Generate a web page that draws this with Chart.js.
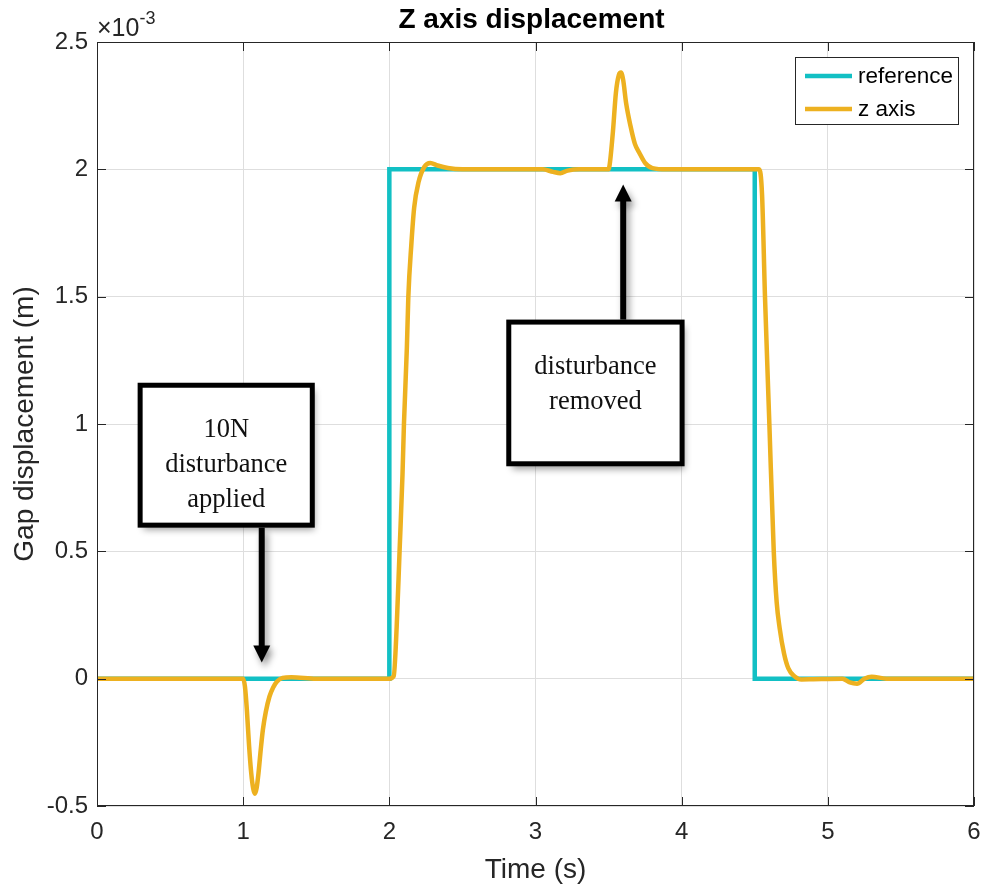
<!DOCTYPE html>
<html>
<head>
<meta charset="utf-8">
<title>Z axis displacement</title>
<script src="https://cdn.jsdelivr.net/npm/chart.js@4"></script>
<style>
  html, body { margin: 0; padding: 0; background: #fff; }
  canvas { display: block; }
</style>
</head>
<body>
<canvas id="zChart" width="985" height="888"></canvas>
<script>
// -------------------- data (displacement in units of 1e-3 m) --------------------
const refTime = [0, 2, 2, 4.5, 4.5, 6];
const refGap  = [0, 0, 2, 2,   0,   0];

const zTime = [
  0, 1.0, 1.012, 1.025, 1.04, 1.055, 1.068, 1.08, 1.092, 1.105, 1.12, 1.135, 1.155, 1.18, 1.205,
  1.23, 1.27, 1.33, 1.5,
  2.0, 2.03, 2.05, 2.07, 2.09, 2.1, 2.12, 2.13, 2.15, 2.17, 2.2, 2.24, 2.28, 2.33, 2.4, 2.5,
  3.05, 3.12, 3.17, 3.22, 3.3, 3.5, 3.51, 3.53, 3.55, 3.57, 3.585, 3.6, 3.62, 3.65, 3.68, 3.71,
  3.75, 3.8, 3.9, 4.53, 4.55, 4.57, 4.6, 4.63, 4.65, 4.67, 4.7, 4.73, 4.77, 4.82, 4.9,
  5.1, 5.15, 5.2, 5.25, 5.3, 5.4, 6
];
const zGap = [
  0, 0, -0.03, -0.12, -0.26, -0.37, -0.43, -0.452, -0.43, -0.37, -0.28, -0.2, -0.13, -0.07, -0.035,
  -0.012, 0.003, 0.006, 0,
  0, 0.01, 0.2, 0.5, 0.8, 1.0, 1.3, 1.5, 1.7, 1.85, 1.95, 2.01, 2.025, 2.015, 2.005, 2.0,
  2.0, 1.99, 1.985, 1.995, 2.0, 2.0, 2.03, 2.15, 2.3, 2.37, 2.38, 2.35, 2.26, 2.17, 2.1, 2.065,
  2.025, 2.005, 2.0, 2.0, 1.9, 1.5, 1.0, 0.5, 0.3, 0.2, 0.1, 0.04, 0.01, -0.003, -0.002,
  0, -0.015, -0.02, 0, 0.008, 0, 0
];

const seriesNames = ["reference", "z axis"];
const xTicks = [0, 1, 2, 3, 4, 5, 6];
const yTicks = [-0.5, 0, 0.5, 1, 1.5, 2, 2.5];

// -------------------- text boxes + arrows (in data coordinates) --------------------
const notes = [
  { lines: ["10N", "disturbance", "applied"], x0: 0.278, x1: 1.49, y0: 0.593, y1: 1.162,
    arrow: { x: 1.127, from: 0.593, to: 0.063 } },
  { lines: ["disturbance", "removed"], x0: 2.8, x1: 4.02, y0: 0.834, y1: 1.41,
    arrow: { x: 3.6, from: 1.41, to: 1.94 } }
];

const SANS = '"Liberation Sans", Arial, Helvetica, sans-serif';
const SERIF = '"Liberation Serif", "Times New Roman", serif';
const AXIS_COLOR = "#262626";
const COLORS = ["#12C0C4", "#EDB120"];
const LINE_W = 4.5;

const toPoints = (xs, ys) => xs.map((x, i) => ({ x: x, y: ys[i] }));

// -------------------- extra drawing: box, inner ticks, titles, legend, notes --------------------
const decorations = {
  id: "decorations",
  afterDraw(chart) {
    const ctx = chart.ctx;
    const a = chart.chartArea;
    const sx = chart.scales.x, sy = chart.scales.y;
    ctx.save();

    // axes box with inward ticks
    ctx.strokeStyle = AXIS_COLOR;
    ctx.lineWidth = 1;
    ctx.strokeRect(a.left + 0.5, a.top + 0.5, a.right - a.left - 1, a.bottom - a.top - 1);
    ctx.beginPath();
    xTicks.forEach(v => {
      const px = Math.round(sx.getPixelForValue(v)) + 0.5;
      ctx.moveTo(px, a.bottom); ctx.lineTo(px, a.bottom - 9);
      ctx.moveTo(px, a.top); ctx.lineTo(px, a.top + 9);
    });
    yTicks.forEach(v => {
      const py = Math.round(sy.getPixelForValue(v)) + 0.5;
      ctx.moveTo(a.left, py); ctx.lineTo(a.left + 9, py);
      ctx.moveTo(a.right, py); ctx.lineTo(a.right - 9, py);
    });
    ctx.stroke();

    // title + axis labels
    ctx.fillStyle = "#000";
    ctx.textAlign = "center";
    ctx.textBaseline = "alphabetic";
    ctx.font = "bold 28px " + SANS;
    ctx.fillText("Z axis displacement", (a.left + a.right) / 2 - 4, 28);
    ctx.fillStyle = AXIS_COLOR;
    ctx.font = "28px " + SANS;
    ctx.fillText("Time (s)", (a.left + a.right) / 2, 878);
    ctx.save();
    ctx.translate(33, (a.top + a.bottom) / 2);
    ctx.rotate(-Math.PI / 2);
    ctx.fillText("Gap displacement (m)", 0, 0);
    ctx.restore();

    // exponent label
    ctx.textAlign = "left";
    ctx.font = "25px " + SANS;
    ctx.fillText("\u00D710", a.left, 36);
    const w = ctx.measureText("\u00D710").width;
    ctx.font = "18px " + SANS;
    ctx.fillText("-3", a.left + w, 24);

    // legend
    const lg = { left: 795, top: 57, width: 163, height: 67 };
    ctx.fillStyle = "#fff";
    ctx.fillRect(lg.left, lg.top, lg.width, lg.height);
    ctx.strokeStyle = AXIS_COLOR;
    ctx.strokeRect(lg.left + 0.5, lg.top + 0.5, lg.width, lg.height);
    ctx.font = "22.5px " + SANS;
    ctx.textBaseline = "middle";
    chart.data.datasets.forEach((ds, i) => {
      const y = lg.top + 19 + i * 33;
      ctx.strokeStyle = ds.borderColor;
      ctx.lineWidth = LINE_W;
      ctx.beginPath();
      ctx.moveTo(lg.left + 10, y); ctx.lineTo(lg.left + 57, y);
      ctx.stroke();
      ctx.fillStyle = "#000";
      ctx.fillText(ds.label, lg.left + 63, y + 1);
    });

    // annotation boxes with arrows
    notes.forEach(n => {
      const l = sx.getPixelForValue(n.x0), r = sx.getPixelForValue(n.x1);
      const t = sy.getPixelForValue(n.y1), b = sy.getPixelForValue(n.y0);
      const ax = sx.getPixelForValue(n.arrow.x);
      const a0 = sy.getPixelForValue(n.arrow.from), a1 = sy.getPixelForValue(n.arrow.to);
      const dir = a1 > a0 ? 1 : -1;

      ctx.save();
      ctx.shadowColor = "rgba(0,0,0,0.4)";
      ctx.shadowBlur = 7;
      ctx.shadowOffsetX = 3;
      ctx.shadowOffsetY = 5;
      ctx.strokeStyle = "#000";
      ctx.fillStyle = "#000";
      // arrow shaft and head
      ctx.lineWidth = 6;
      ctx.beginPath();
      ctx.moveTo(ax, a0); ctx.lineTo(ax, a1 - dir * 14);
      ctx.stroke();
      ctx.beginPath();
      ctx.moveTo(ax, a1);
      ctx.lineTo(ax - 8.5, a1 - dir * 17);
      ctx.lineTo(ax + 8.5, a1 - dir * 17);
      ctx.closePath();
      ctx.fill();
      // box
      ctx.fillStyle = "#fff";
      ctx.lineWidth = 5;
      ctx.fillRect(l + 2.5, t + 2.5, r - l - 5, b - t - 5);
      ctx.shadowColor = "transparent";
      ctx.strokeRect(l + 2.5, t + 2.5, r - l - 5, b - t - 5);
      ctx.restore();

      ctx.fillStyle = "#111";
      ctx.font = "26.5px " + SERIF;
      ctx.textAlign = "center";
      ctx.textBaseline = "alphabetic";
      n.lines.forEach((s, i) => ctx.fillText(s, (l + r) / 2, t + 54 + i * 35));
    });

    ctx.restore();
  }
};

// -------------------- chart --------------------
new Chart(document.getElementById("zChart").getContext("2d"), {
  type: "line",
  data: {
    datasets: [
      {
        label: seriesNames[0],
        data: toPoints(refTime, refGap),
        borderColor: COLORS[0],
        borderWidth: LINE_W,
        pointRadius: 0,
        tension: 0,
        order: 2
      },
      {
        label: seriesNames[1],
        data: toPoints(zTime, zGap),
        borderColor: COLORS[1],
        borderWidth: LINE_W,
        pointRadius: 0,
        cubicInterpolationMode: "monotone",
        order: 1
      }
    ]
  },
  options: {
    responsive: false,
    animation: false,
    devicePixelRatio: 1,
    layout: { padding: { top: 42, right: 11, left: 0, bottom: 0 } },
    plugins: {
      legend: { display: false },
      title: { display: false },
      tooltip: { enabled: false }
    },
    scales: {
      x: {
        type: "linear",
        min: 0,
        max: 6,
        afterBuildTicks: s => { s.ticks = xTicks.map(v => ({ value: v })); },
        afterFit: s => { s.height = 82; s.paddingLeft = 0; s.paddingRight = 0; },
        border: { display: false },
        grid: { color: "#dedede", drawTicks: false },
        ticks: { padding: 12, color: AXIS_COLOR, font: { family: SANS, size: 24 }, maxRotation: 0 }
      },
      y: {
        type: "linear",
        min: -0.5,
        max: 2.5,
        afterBuildTicks: s => { s.ticks = yTicks.map(v => ({ value: v })); },
        afterFit: s => { s.width = 97; s.paddingTop = 0; s.paddingBottom = 0; },
        border: { display: false },
        grid: { color: "#dedede", drawTicks: false },
        ticks: {
          padding: 9,
          color: AXIS_COLOR,
          font: { family: SANS, size: 24 },
          callback: v => String(v)
        }
      }
    }
  },
  plugins: [decorations]
});
</script>
</body>
</html>
